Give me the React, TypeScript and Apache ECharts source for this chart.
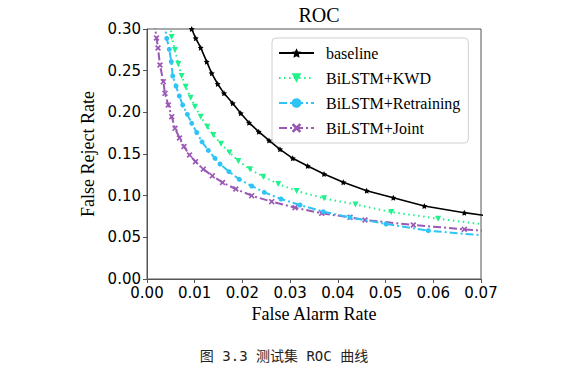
import React, { useEffect, useRef } from "react";
import * as echarts from "echarts";

const xTicks = [0, 0.01, 0.02, 0.03, 0.04, 0.05, 0.06, 0.07];
const yTicks = [0, 0.05, 0.1, 0.15, 0.2, 0.25, 0.3];

const seriesNames = ["baseline", "BiLSTM+KWD", "BiLSTM+Retraining", "BiLSTM+Joint"];

const baseline: [number, number][] = [
  [0.0088, 0.31], [0.00937, 0.3], [0.01021, 0.2888], [0.01125, 0.2776], [0.01251, 0.2608],
  [0.01356, 0.2468], [0.01482, 0.234], [0.01614, 0.2228], [0.01796, 0.2108],
  [0.01964, 0.1988], [0.02138, 0.1876], [0.02341, 0.1768], [0.02557, 0.1663],
  [0.02787, 0.1556], [0.03054, 0.1448], [0.03368, 0.1356], [0.0371, 0.126],
  [0.04114, 0.116], [0.04604, 0.106], [0.05162, 0.0976], [0.05812, 0.0876],
  [0.0665, 0.0796], [0.072, 0.0752],
];

const kwd: [number, number][] = [
  [0.0048, 0.31], [0.00518, 0.2904], [0.00587, 0.2748], [0.00656, 0.258], [0.00727, 0.2436],
  [0.00811, 0.2308], [0.00916, 0.2176], [0.01006, 0.2068], [0.01125, 0.1948],
  [0.01264, 0.1828], [0.0139, 0.1728], [0.01551, 0.1622], [0.01729, 0.1518],
  [0.01914, 0.1416], [0.02159, 0.1316], [0.02437, 0.1228], [0.02752, 0.114],
  [0.03137, 0.1056], [0.0371, 0.0968], [0.0437, 0.0894], [0.0512, 0.0804],
  [0.061, 0.0724], [0.072, 0.0645],
];

const retraining: [number, number][] = [
  [0.0036, 0.31], [0.00413, 0.2888], [0.00467, 0.2756], [0.00508, 0.2608], [0.00539, 0.2436],
  [0.00608, 0.2316], [0.00677, 0.2196], [0.00748, 0.2088], [0.00845, 0.1976],
  [0.00937, 0.1868], [0.01042, 0.1758], [0.01153, 0.1646], [0.01285, 0.1543],
  [0.01425, 0.1448], [0.0153, 0.138], [0.01719, 0.1288], [0.01934, 0.1196],
  [0.02194, 0.1116], [0.02458, 0.104], [0.02808, 0.096], [0.03207, 0.0888],
  [0.03695, 0.0808], [0.04255, 0.074], [0.05009, 0.066], [0.05896, 0.058],
  [0.072, 0.0515],
];

const joint: [number, number][] = [
  [0.0015, 0.31], [0.00199, 0.2892], [0.00231, 0.2772], [0.00272, 0.2568], [0.00342, 0.2368],
  [0.00377, 0.2228], [0.00446, 0.2088], [0.00518, 0.1948], [0.00587, 0.1808],
  [0.00681, 0.1692], [0.00775, 0.159], [0.00891, 0.1488], [0.01017, 0.1408],
  [0.0118, 0.1318], [0.01369, 0.1238], [0.01583, 0.1158], [0.01861, 0.108],
  [0.02194, 0.1], [0.02614, 0.0928], [0.03102, 0.0856], [0.03661, 0.0788],
  [0.04255, 0.074], [0.04569, 0.0708], [0.05581, 0.0648], [0.0665, 0.0596],
  [0.072, 0.0572],
];

const STAR =
  "path://M0,-10L2.9,-4L9.5,-3.1L4.8,1.5L5.9,8.1L0,5L-5.9,8.1L-4.8,1.5L-9.5,-3.1L-2.9,-4Z";
const TRI_DOWN = "path://M-5,-4L5,-4L0,5Z";
const XMARK =
  "path://M-3,-5L0,-2L3,-5L5,-3L2,0L5,3L3,5L0,2L-3,5L-5,3L-2,0L-5,-3Z";

export default function App() {
  const ref = useRef<HTMLDivElement>(null);
  useEffect(() => {
    if (!ref.current) return;
    const chart = echarts.init(ref.current, null, { renderer: "svg" });
    const serif = "Liberation Serif";
    const sans = "DejaVu Sans";
    const axisColor = "#555";
    chart.setOption({
      animation: false,
      backgroundColor: "#fff",
      title: {
        text: "ROC",
        left: 314,
        textAlign: "center",
        top: 0,
        textStyle: { fontFamily: serif, fontSize: 20, fontWeight: "normal", color: "#000" },
      },
      grid: {
        left: 147,
        top: 29,
        width: 334,
        height: 250,
        show: true,
        borderColor: axisColor,
        borderWidth: 1,
        backgroundColor: "transparent",
      },
      legend: {
        orient: "vertical",
        left: 272,
        top: 38,
        itemWidth: 35,
        itemHeight: 12,
        itemGap: 9,
        padding: [7, 8, 7, 6],
        backgroundColor: "rgba(255,255,255,0.85)",
        borderColor: "#d0d0d0",
        borderWidth: 1,
        borderRadius: 4,
        textStyle: {
          fontFamily: serif,
          fontSize: 16,
          fontWeight: "normal",
          color: "#000",
          padding: [0, 0, 0, 7],
        },
        data: seriesNames,
      },
      xAxis: {
        type: "value",
        min: 0,
        max: 0.07,
        interval: 0.01,
        name: "False Alarm Rate",
        nameLocation: "middle",
        nameGap: 25,
        nameTextStyle: { fontFamily: serif, fontSize: 18, fontWeight: "normal", color: "#000" },
        axisLine: { show: true, lineStyle: { color: axisColor } },
        axisTick: { show: true, length: 4, lineStyle: { color: axisColor } },
        axisLabel: {
          fontFamily: sans,
          fontSize: 15,
          color: "#000",
          margin: 6,
          formatter: (v: number) => v.toFixed(2),
          customValues: xTicks,
        },
        splitLine: { show: false },
      },
      yAxis: {
        type: "value",
        min: 0,
        max: 0.3,
        interval: 0.05,
        name: "False Reject Rate",
        nameLocation: "middle",
        nameGap: 42,
        nameTextStyle: { fontFamily: serif, fontSize: 18, fontWeight: "normal", color: "#000" },
        axisLine: { show: true, lineStyle: { color: axisColor } },
        axisTick: { show: true, length: 4, lineStyle: { color: axisColor } },
        axisLabel: {
          fontFamily: sans,
          fontSize: 15,
          color: "#000",
          margin: 6,
          formatter: (v: number) => v.toFixed(2),
          customValues: yTicks,
        },
        splitLine: { show: false },
      },
      series: [
        {
          name: seriesNames[0],
          type: "line",
          data: baseline,
          clip: true,
          symbol: STAR,
          symbolSize: 6,
          color: "#000",
          itemStyle: { color: "#000" },
          lineStyle: { color: "#000", width: 1.6, type: "solid" },
          z: 4,
        },
        {
          name: seriesNames[1],
          type: "line",
          data: kwd,
          clip: true,
          symbol: TRI_DOWN,
          symbolSize: 6,
          color: "#1ef28a",
          itemStyle: { color: "#1ef28a" },
          lineStyle: { color: "#1ef28a", width: 2, type: [1.5, 3.5] },
          z: 3,
        },
        {
          name: seriesNames[2],
          type: "line",
          data: retraining,
          clip: true,
          symbol: "circle",
          symbolSize: 5,
          color: "#2ec4f5",
          itemStyle: { color: "#2ec4f5" },
          lineStyle: { color: "#2ec4f5", width: 2, type: [8, 3, 2, 3] },
          z: 2,
        },
        {
          name: seriesNames[3],
          type: "line",
          data: joint,
          clip: true,
          symbol: XMARK,
          symbolSize: 6,
          color: "#9b59b6",
          itemStyle: { color: "#9b59b6" },
          lineStyle: { color: "#9b59b6", width: 2, type: [8, 3, 2, 3] },
          z: 1,
        },
      ],
      graphic: [
        {
          type: "text",
          x: 284,
          y: 356,
          style: {
            text: "图 3.3 测试集 ROC 曲线",
            fontFamily: "DejaVu Sans Mono, Noto Sans CJK SC",
            fontSize: 14,
            letterSpacing: 1.5,
            fill: "#222",
            align: "center",
            verticalAlign: "middle",
          },
        },
      ],
    });
    return () => chart.dispose();
  }, []);
  return (
    <div
      ref={ref}
      style={{ position: "fixed", left: 0, top: 0, width: 574, height: 380 }}
    />
  );
}
